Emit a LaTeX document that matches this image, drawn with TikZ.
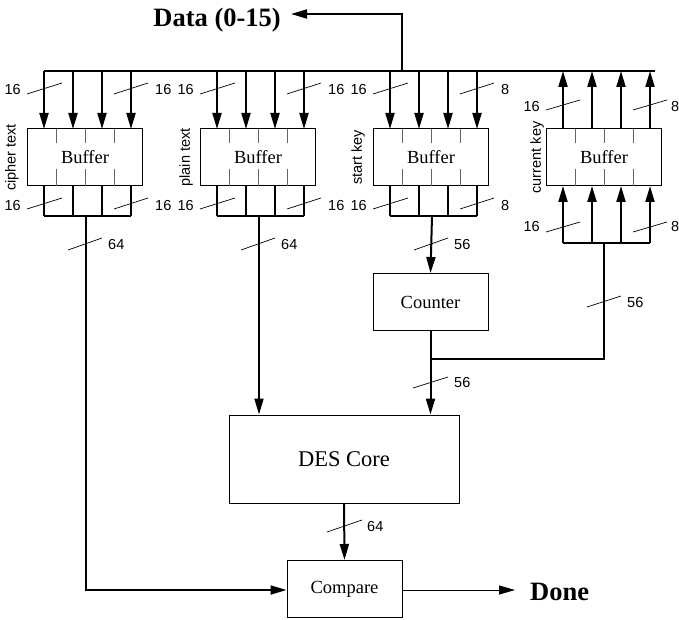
\documentclass[tikz,border=0pt]{standalone}
\usepackage{fontspec}
\setmainfont{Liberation Serif}
\newfontfamily\helv{Liberation Sans}
\usetikzlibrary{arrows.meta}
\begin{document}
\begin{tikzpicture}[x=1pt,y=-1pt,
  bus/.style={line width=2pt},
  busarrow/.style={line width=2pt,-{Triangle[length=16pt,width=9pt]}},
  thinarrow/.style={line width=1pt,-{Triangle[length=16pt,width=9pt]}},
  box/.style={draw,line width=1pt,minimum width=115pt,minimum height=57pt,inner sep=0pt,font=\fontsize{18.5}{20}\selectfont},
  slash/.style={line width=0.7pt},
  lbl/.style={font=\helv\fontsize{14.5}{15}\selectfont,inner sep=0pt},
  vlbl/.style={font=\helv\fontsize{14.5}{15}\selectfont,inner sep=0pt,rotate=90},
  divider/.style={draw=black!60,line width=0.9pt}]
\useasboundingbox (0,0) rectangle (679,620);

% Data bus
\coordinate (busL) at (44,71);
\coordinate (busR) at (655,71);
\coordinate (busT) at (402,71);
\coordinate (busTop) at (402,14);
\coordinate (dataTip) at (291,14);
\draw[bus] (busL) -- (busR);
\draw[busarrow] (busT) -- (busTop) -- (dataTip);
\node[anchor=base east,inner sep=0pt,font=\bfseries\fontsize{26.5}{28}\selectfont] (data) at (281,27) {Data (0-15)};

% Buffers
\foreach \i/\name/\vx in {0/cipher text/12, 1/plain text/186, 2/start key/358, 3/current key/537} {
  \pgfmathsetmacro{\L}{27+173*\i}
  \node[box] (buf\i) at (\L+58,157.5) {Buffer};
  \foreach \k in {1,2,3} {
    \draw[divider] (\L+29*\k,129) -- (\L+29*\k,143);
    \draw[divider] (\L+29*\k,169) -- (\L+29*\k,186);
  }
  \node[vlbl] (vl\i) at (\vx,157.5) {\name};
}

% Buffers 0-2: inputs from bus, outputs combined
\foreach \i/\rl/\orl in {0/16/64, 1/16/64, 2/8/56} {
  \pgfmathsetmacro{\L}{27+173*\i}
  \foreach \k in {0,1,2,3} {
    \coordinate (in\i\k) at (\L+17+29*\k,71);
    \coordinate (inB\i\k) at (\L+17+29*\k,129);
    \draw[busarrow] (in\i\k) -- (inB\i\k);
    \coordinate (out\i\k) at (\L+17+29*\k,186);
    \coordinate (outB\i\k) at (\L+17+29*\k,216);
    \draw[bus] (out\i\k) -- (outB\i\k);
  }
  \draw[bus] (outB\i0) -- (outB\i3);
  \coordinate (join\i) at (\L+59,216);
  % slashes
  \draw[slash] (\L,94) -- (\L+35,83);
  \node[lbl,anchor=east] (tl\i) at (\L-6,90) {16};
  \draw[slash] (\L+87,94) -- (\L+121,83);
  \node[lbl,anchor=west] (tr\i) at (\L+128,90) {\rl};
  \draw[slash] (\L,209) -- (\L+35,198);
  \node[lbl,anchor=east] (bl\i) at (\L-6,206) {16};
  \draw[slash] (\L+87,209) -- (\L+121,198);
  \node[lbl,anchor=west] (br\i) at (\L+128,206) {\rl};
  \draw[slash] (\L+41,250) -- (\L+75,238);
  \node[lbl,anchor=west] (ol\i) at (\L+81,245) {\orl};
}

% Buffer 3: outputs to bus, inputs from counter path
\foreach \k in {0,1,2,3} {
  \coordinate (u\k) at (563+29*\k,129);
  \coordinate (uT\k) at (563+29*\k,71);
  \draw[busarrow] (u\k) -- (uT\k);
  \coordinate (d\k) at (563+29*\k,243);
  \coordinate (dT\k) at (563+29*\k,186);
  \draw[busarrow] (d\k) -- (dT\k);
}
\draw[bus] (d0) -- (d3);
\draw[slash] (546,110) -- (580,100);
\node[lbl,anchor=east] (tl3) at (540,107) {16};
\draw[slash] (633,110) -- (667,100);
\node[lbl,anchor=west] (tr3) at (671,107) {8};
\draw[slash] (546,232) -- (580,222);
\node[lbl,anchor=east] (bl3) at (540,227) {16};
\draw[slash] (633,232) -- (667,222);
\node[lbl,anchor=west] (br3) at (671,227) {8};

% Counter, DES, Compare
\node[box] (counter) at (430.5,302) {Counter};
\node[box,minimum width=230pt,minimum height=88pt,font=\fontsize{22.5}{24}\selectfont] (des) at (344,459) {DES Core};
\node[box] (cmp) at (344.5,589) {Compare};

% connections
\draw[busarrow] (join2) -- (counter.north);
\coordinate (j) at (431,359);
\coordinate (k1) at (604,243);
\coordinate (k2) at (604,359);
\draw[bus] (k1) -- (k2) -- (j);
\draw[busarrow] (counter.south) -- (des.north -| counter.south);
\draw[busarrow] (join1) -- (des.north -| join1);
\coordinate (c1) at (86,590);
\draw[busarrow] (join0) -- (c1) -- (cmp.west |- c1);
\draw[busarrow] (des.south) -- (cmp.north);
\coordinate (doneTip) at (515,590);
\draw[thinarrow] (cmp.east |- c1) -- (doneTip);
\node[anchor=base west,inner sep=0pt,font=\bfseries\fontsize{26.5}{28}\selectfont] (done) at (530,600) {Done};

% other slashes
\draw[slash] (587,307) -- (621,296);
\node[lbl,anchor=west] (l56a) at (627,303) {56};
\draw[slash] (413,388) -- (448,377);
\node[lbl,anchor=west] (l56b) at (454,383) {56};
\draw[slash] (327,532) -- (362,520);
\node[lbl,anchor=west] (l64) at (367,527) {64};
\end{tikzpicture}
\end{document}
